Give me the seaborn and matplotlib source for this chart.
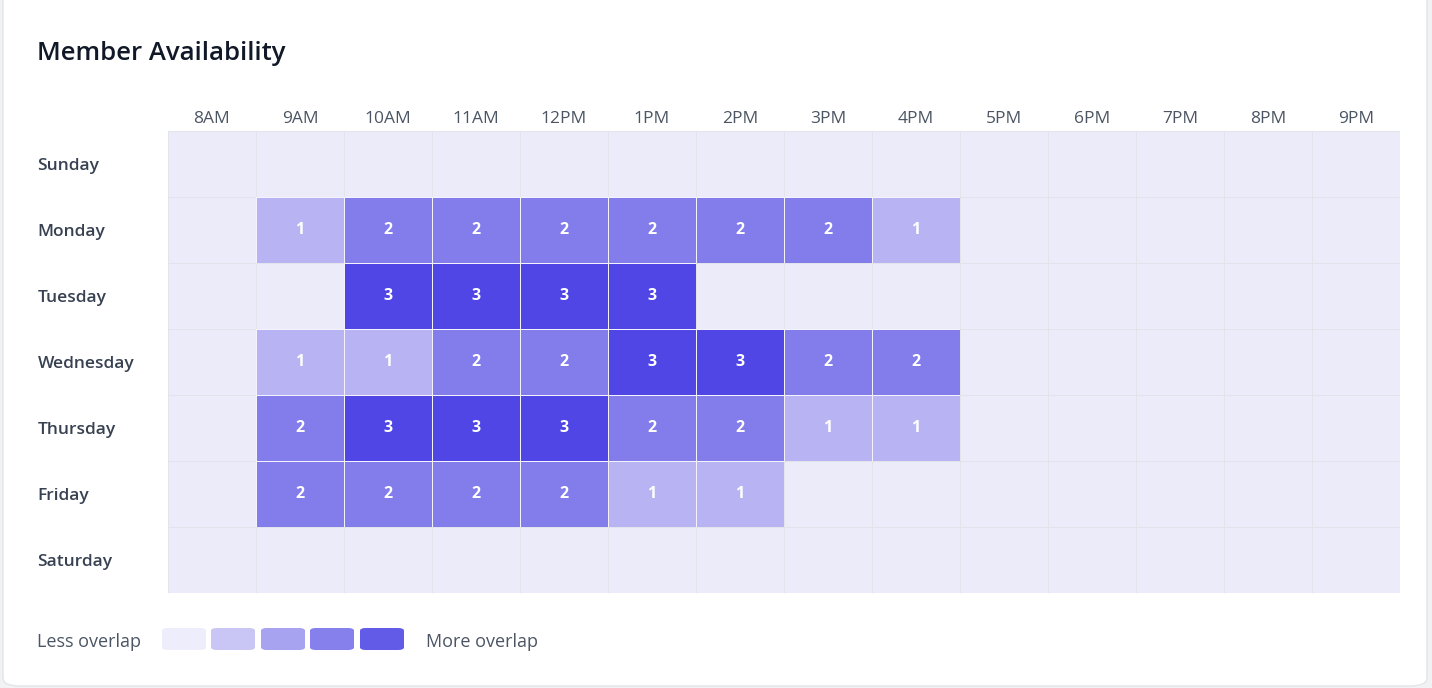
import numpy as np
import pandas as pd
import matplotlib
matplotlib.use('Agg')
import matplotlib.pyplot as plt
from matplotlib.colors import ListedColormap
from matplotlib.patches import FancyBboxPatch
import seaborn as sns

#=====================
# DATA
#=====================
days = ['Sunday', 'Monday', 'Tuesday', 'Wednesday', 'Thursday', 'Friday', 'Saturday']
hours = ['8AM', '9AM', '10AM', '11AM', '12PM', '1PM', '2PM', '3PM', '4PM',
         '5PM', '6PM', '7PM', '8PM', '9PM']
sunday    = [0, 0, 0, 0, 0, 0, 0, 0, 0, 0, 0, 0, 0, 0]
monday    = [0, 1, 2, 2, 2, 2, 2, 2, 1, 0, 0, 0, 0, 0]
tuesday   = [0, 0, 3, 3, 3, 3, 0, 0, 0, 0, 0, 0, 0, 0]
wednesday = [0, 1, 1, 2, 2, 3, 3, 2, 2, 0, 0, 0, 0, 0]
thursday  = [0, 2, 3, 3, 3, 2, 2, 1, 1, 0, 0, 0, 0, 0]
friday    = [0, 2, 2, 2, 2, 1, 1, 0, 0, 0, 0, 0, 0, 0]
saturday  = [0, 0, 0, 0, 0, 0, 0, 0, 0, 0, 0, 0, 0, 0]

cell_colors = ['#ECEBFA', '#B8B3F3', '#837DEB', '#4F46E5']
legend_colors = ['#EEEDFC', '#C9C6F6', '#A8A3F1', '#8580EB', '#625BE7']

df = pd.DataFrame([sunday, monday, tuesday, wednesday, thursday, friday, saturday],
                  index=days, columns=hours)

#=====================
# FIGURE
#=====================
plt.rcParams['font.family'] = ['Open Sans', 'DejaVu Sans']
W, H = 1432, 688
fig = plt.figure(figsize=(W / 100, H / 100), dpi=100, facecolor='#F1F2F4')

# white card (kept behind the axes)
card = FancyBboxPatch((3 / W, 2 / H), 1424 / W, 700 / H,
                      boxstyle='round,pad=0,rounding_size=0.012',
                      transform=fig.transFigure, facecolor='white',
                      edgecolor='#E3E5E8', linewidth=1, zorder=-10)
fig.patches.append(card)

fig.text(37 / W, 1 - 54 / H, 'Member Availability', fontsize=18.5,
         fontweight='semibold', color='#111827', va='center', ha='left')

ax = fig.add_axes([168 / W, (H - 593) / H, 1232 / W, 462 / H])
ax.set_zorder(1)
cmap = ListedColormap(cell_colors)

labels = df.astype(str).where(df > 0, '')
sns.heatmap(df, ax=ax, cmap=cmap, vmin=-0.5, vmax=3.5, cbar=False,
            linewidths=0.7, linecolor='#E3E3EC',
            annot=labels, fmt='',
            annot_kws={'color': 'white', 'fontsize': 11.5, 'fontweight': 'bold'})

# white separators around filled cells, grey around empty ones
mesh = ax.collections[0]
edge = np.where(df.values.ravel() > 0, '#F4F3FD', '#E3E3EC')
mesh.set_edgecolors(list(edge))

ax.xaxis.tick_top()
ax.set_xlabel('')
ax.set_ylabel('')
ax.tick_params(axis='x', length=0, pad=3, labelsize=12.5, labelcolor='#4B5563')
ax.tick_params(axis='y', length=0, pad=94, labelsize=12.5, labelcolor='#374151')
ax.set_xticklabels(hours, rotation=0)
ax.set_yticklabels(days, rotation=0, ha='left', va='center_baseline',
                   fontweight='semibold')

#=====================
# LEGEND
#=====================
fig.text(37 / W, 1 - 642 / H, 'Less overlap', fontsize=13, color='#4B5563',
         va='center', ha='left')
sw_x = [162, 211, 261, 310, 360]
for x0, c in zip(sw_x, legend_colors):
    sw = FancyBboxPatch((x0 / W, (H - 650) / H), 44 / W, 22 / H,
                        boxstyle='round,pad=0,rounding_size=0.004',
                        transform=fig.transFigure, facecolor=c,
                        edgecolor='none', zorder=2)
    fig.patches.append(sw)
fig.text(426 / W, 1 - 642 / H, 'More overlap', fontsize=13, color='#4B5563',
         va='center', ha='left')

fig.savefig('out.png', dpi=100, facecolor=fig.get_facecolor())
